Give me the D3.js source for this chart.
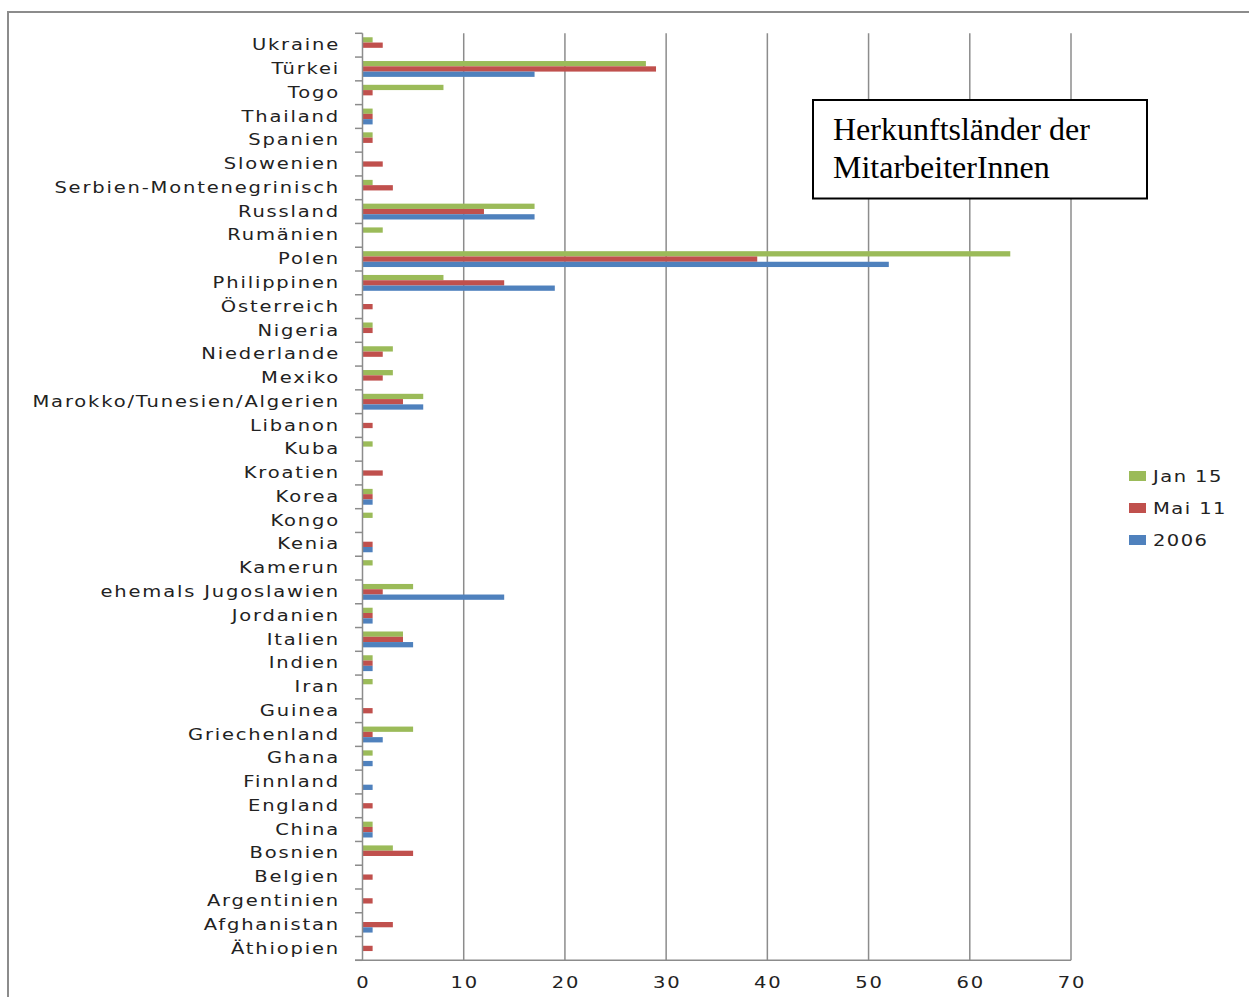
<!DOCTYPE html>
<html>
<head>
<meta charset="utf-8">
<script src="https://cdn.jsdelivr.net/npm/d3@7"></script>
<style>
  body { margin: 0; background: #fff; }
  svg { display: block; }
</style>
</head>
<body>
<div id="chart"></div>
<script>
// countries, top to bottom as in the chart
const categories = [
  "Ukraine", "Türkei", "Togo", "Thailand", "Spanien", "Slowenien",
  "Serbien-Montenegrinisch", "Russland", "Rumänien", "Polen", "Philippinen",
  "Österreich", "Nigeria", "Niederlande", "Mexiko", "Marokko/Tunesien/Algerien",
  "Libanon", "Kuba", "Kroatien", "Korea", "Kongo", "Kenia", "Kamerun",
  "ehemals Jugoslawien", "Jordanien", "Italien", "Indien", "Iran", "Guinea",
  "Griechenland", "Ghana", "Finnland", "England", "China", "Bosnien",
  "Belgien", "Argentinien", "Afghanistan", "Äthiopien"
];
const seriesNames = ["Jan 15", "Mai 11", "2006"];
const jan15 = [1, 28, 8, 1, 1, 0, 1, 17, 2, 64, 8, 0, 1, 3, 3, 6, 0, 1, 0, 1, 1, 0, 1, 5, 1, 4, 1, 1, 0, 5, 1, 0, 0, 1, 3, 0, 0, 0, 0];
const mai11 = [2, 29, 1, 1, 1, 2, 3, 12, 0, 39, 14, 1, 1, 2, 2, 4, 1, 0, 2, 1, 0, 1, 0, 2, 1, 4, 1, 0, 1, 1, 0, 0, 1, 1, 5, 1, 1, 3, 1];
const y2006 = [0, 17, 0, 1, 0, 0, 0, 17, 0, 52, 19, 0, 0, 0, 0, 6, 0, 0, 0, 1, 0, 1, 0, 14, 1, 5, 1, 0, 0, 2, 1, 1, 0, 1, 0, 0, 0, 1, 0];
const xTicks = [0, 10, 20, 30, 40, 50, 60, 70];
const colors = ["#9bbb59", "#c0504d", "#4f81bd"];

const W = 1249, H = 997;
const svg = d3.select("#chart").append("svg").attr("width", W).attr("height", H);

// outer frame
svg.append("rect")
  .attr("x", 8).attr("y", 12).attr("width", W + 10).attr("height", H + 10)
  .attr("fill", "none").attr("stroke", "#8c8c8c").attr("stroke-width", 2);

const x = d3.scaleLinear().domain([0, 70]).range([362.5, 1071]);
const y = d3.scaleBand().domain(categories).range([33.3, 960.3]);
const ySub = d3.scaleBand().domain(seriesNames).range([0, y.bandwidth()])
  .paddingInner(0).paddingOuter(0.75);

const sx = 1.22; // labels in the picture are stretched horizontally
const labelFont = "'DejaVu Sans', sans-serif";
const spacing = 1.5;

// gridlines
svg.append("g").selectAll("line").data(xTicks.slice(1)).join("line")
  .attr("x1", d => x(d)).attr("x2", d => x(d))
  .attr("y1", 33.3).attr("y2", 960.3)
  .attr("stroke", "#8c8c8c").attr("stroke-width", 1.5);

// bars
const rows = categories.map((c, i) => ({ c, vals: [jan15[i], mai11[i], y2006[i]] }));
const g = svg.append("g").selectAll("g").data(rows).join("g")
  .attr("transform", d => `translate(0,${y(d.c)})`);
g.selectAll("rect")
  .data(d => d.vals.map((v, k) => ({ v, k })).filter(e => e.v > 0))
  .join("rect")
  .attr("x", x(0))
  .attr("y", e => ySub(seriesNames[e.k]))
  .attr("width", e => x(e.v) - x(0))
  .attr("height", ySub.bandwidth())
  .attr("fill", e => colors[e.k]);

// y axis line + ticks
svg.append("line")
  .attr("x1", x(0)).attr("x2", x(0)).attr("y1", 33.3).attr("y2", 960.3)
  .attr("stroke", "#8c8c8c").attr("stroke-width", 1.5);
const tickYs = categories.map(c => y(c)).concat([960.3]);
svg.append("g").selectAll("line").data(tickYs).join("line")
  .attr("x1", 355).attr("x2", x(0)).attr("y1", d => d).attr("y2", d => d)
  .attr("stroke", "#8c8c8c").attr("stroke-width", 1.5);

// x axis line
svg.append("line")
  .attr("x1", 355).attr("x2", x(70)).attr("y1", 960.3).attr("y2", 960.3)
  .attr("stroke", "#8c8c8c").attr("stroke-width", 1.5);

// category labels
svg.append("g").selectAll("text").data(categories).join("text")
  .attr("transform", d => `translate(340,${y(d) + y.bandwidth() / 2 - 0.5}) scale(${sx},1)`)
  .attr("text-anchor", "end").attr("dy", "0.35em")
  .attr("font-family", labelFont).attr("font-size", 16).attr("fill", "#222")
  .attr("letter-spacing", spacing)
  .text(d => d);

// x tick labels
svg.append("g").selectAll("text").data(xTicks).join("text")
  .attr("transform", d => `translate(${x(d) + 1},982) scale(${sx},1)`)
  .attr("text-anchor", "middle").attr("dy", "0.35em")
  .attr("font-family", labelFont).attr("font-size", 16).attr("fill", "#222")
  .attr("letter-spacing", spacing)
  .text(d => d);

// legend
const leg = svg.append("g").selectAll("g").data(seriesNames).join("g")
  .attr("transform", (d, i) => `translate(1129,${476 + i * 32})`);
leg.append("rect").attr("x", 0).attr("y", -5).attr("width", 17).attr("height", 10)
  .attr("fill", (d, i) => colors[i]);
leg.append("text")
  .attr("transform", `translate(24,0) scale(${sx},1)`)
  .attr("dy", "0.35em")
  .attr("font-family", labelFont).attr("font-size", 16).attr("fill", "#222")
  .attr("letter-spacing", 1.2)
  .text(d => d);

// title box
svg.append("rect")
  .attr("x", 813).attr("y", 100).attr("width", 334).attr("height", 98.5)
  .attr("fill", "#fff").attr("stroke", "#000").attr("stroke-width", 2);
const title = svg.append("text")
  .attr("font-family", "'Liberation Serif', 'Times New Roman', serif")
  .attr("font-size", 32).attr("fill", "#000");
title.append("tspan").attr("x", 833).attr("y", 140).text("Herkunftsländer der");
title.append("tspan").attr("x", 833).attr("y", 178).text("MitarbeiterInnen");
</script>
</body>
</html>
